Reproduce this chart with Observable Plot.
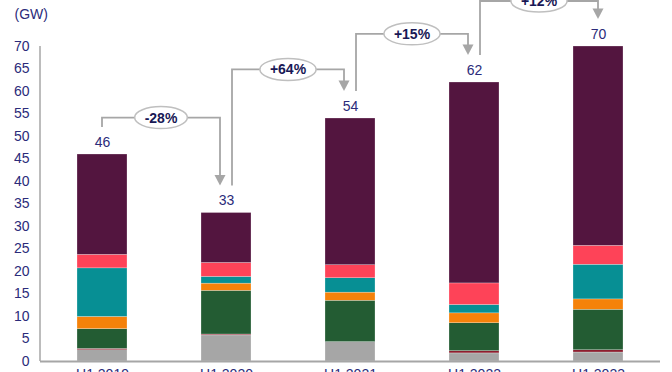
<!DOCTYPE html>
<html><head><meta charset="utf-8">
<script src="https://cdn.jsdelivr.net/npm/d3@7"></script>
<script src="https://cdn.jsdelivr.net/npm/@observablehq/plot@0.6"></script>
<style>html,body{margin:0;padding:0;overflow:hidden;background:#fff}</style>
</head><body><div id="chart"></div>
<script>
// ---- data ----
const periods = ["H1 2019", "H1 2020", "H1 2021", "H1 2022", "H1 2023"];
const totals = [46, 33, 54, 62, 70];
const seriesNames = ["Segment 1", "Segment 2", "Segment 3", "Segment 4", "Segment 5", "Segment 6", "Segment 7"];
const seriesColors = ["#a6a6a6", "#8c1d2e", "#235c33", "#f5820a", "#078f94", "#fe4358", "#53153f"];
const seg1 = [2.5, 5.8, 4.3, 1.8, 2.0];
const seg2 = [0.3, 0.2, 0.0, 0.5, 0.5];
const seg3 = [4.4, 9.7, 9.2, 6.2, 9.0];
const seg4 = [2.7, 1.6, 1.8, 2.2, 2.3];
const seg5 = [10.8, 1.5, 3.2, 1.85, 7.7];
const seg6 = [3.0, 3.1, 2.9, 4.8, 4.2];
const seg7 = [22.3, 11.1, 32.6, 44.65, 44.3];
const changeLabels = ["-28%", "+64%", "+15%", "+12%"];
const changeLevels = [54.1, 64.8, 72.7, 80.0]; // GW height of each bracket
const yTicks = [0, 5, 10, 15, 20, 25, 30, 35, 40, 45, 50, 55, 60, 65, 70];
const unitLabel = "(GW)";

// ---- build table ----
const seriesValues = [seg1, seg2, seg3, seg4, seg5, seg6, seg7];
const rows = periods.flatMap((p, i) => seriesNames.map((s, j) => ({period: p, series: s, value: seriesValues[j][i]})));
const totalRows = periods.map((p, i) => ({period: p, total: totals[i]}));

const textColor = "#2b2b7a";
const plot = Plot.plot({
  width: 672, height: 372,
  marginLeft: 40, marginRight: 12, marginTop: 46, marginBottom: 11,
  style: {fontFamily: "'Liberation Sans', Arial, sans-serif", fontSize: "14px", color: textColor, background: "#fff"},
  x: {domain: periods, paddingInner: 0.6, paddingOuter: 0.3, label: null},
  y: {domain: [0, 70], label: null},
  color: {domain: seriesNames, range: seriesColors},
  marks: [
    Plot.barY(rows, {x: "period", y: "value", fill: "series", stroke: "#ffffff", strokeWidth: 0.5, strokeOpacity: 0.5}),
    Plot.axisY({ticks: yTicks, tickSize: 0, tickPadding: 11, fontSize: 14, fill: textColor, label: null}),
    Plot.axisX({tickSize: 0, tickPadding: 8, fontSize: 14, fill: textColor, label: null}),
    Plot.ruleY([0], {stroke: "#a6a6a6", strokeWidth: 2}),
    Plot.text(totalRows, {x: "period", y: "total", text: d => String(d.total), dy: -12, fontSize: 14, fill: textColor}),
    Plot.text([unitLabel], {frameAnchor: "top-left", dx: -26, dy: -32, textAnchor: "start", lineAnchor: "middle", fontSize: 14, fill: textColor})
  ]
});
document.getElementById("chart").appendChild(plot);

// ---- overlay: left axis line and change brackets ----
const xs = plot.scale("x"), ys = plot.scale("y");
const svg = d3.select(plot);
const cx = p => xs.apply(p) + xs.bandwidth / 2;
const x0 = 40;
svg.append("line").attr("x1", x0).attr("x2", x0)
  .attr("y1", ys.apply(70)).attr("y2", ys.apply(0))
  .attr("stroke", "#a6a6a6").attr("stroke-width", 1.5);

const gap = 27, lineColor = "#a6a6a6";
const g = svg.append("g");
changeLabels.forEach((lab, i) => {
  const from = periods[i], to = periods[i + 1];
  const outOff = i > 0 ? 6 : 0;
  const inOff = (i + 1) < periods.length - 1 ? -6 : 0;
  const xa = cx(from) + outOff, xb = cx(to) + inOff;
  const ya = ys.apply(totals[i]) - gap;
  const yb = ys.apply(totals[i + 1]) - gap;
  const yl = ys.apply(changeLevels[i]);
  g.append("path")
    .attr("d", `M${xa},${ya}V${yl}H${xb}V${yb - 9}`)
    .attr("fill", "none").attr("stroke", lineColor).attr("stroke-width", 1.8);
  g.append("path")
    .attr("d", `M${xb - 5.5},${yb - 10.5}L${xb + 5.5},${yb - 10.5}L${xb},${yb}Z`)
    .attr("fill", lineColor);
  const mx = (xa + xb) / 2;
  const ell = g.append("ellipse").attr("cx", mx).attr("cy", yl).attr("ry", 11)
    .attr("fill", "#fff").attr("stroke", "#bfbfbf").attr("stroke-width", 1.5);
  const t = g.append("text").attr("x", mx).attr("y", yl).attr("dy", "0.36em")
    .attr("text-anchor", "middle").attr("font-weight", "bold").attr("font-size", 14)
    .attr("fill", "#181855").text(lab);
  const w = t.node().getComputedTextLength();
  ell.attr("rx", w / 2 + 10);
});
</script>
</body></html>
